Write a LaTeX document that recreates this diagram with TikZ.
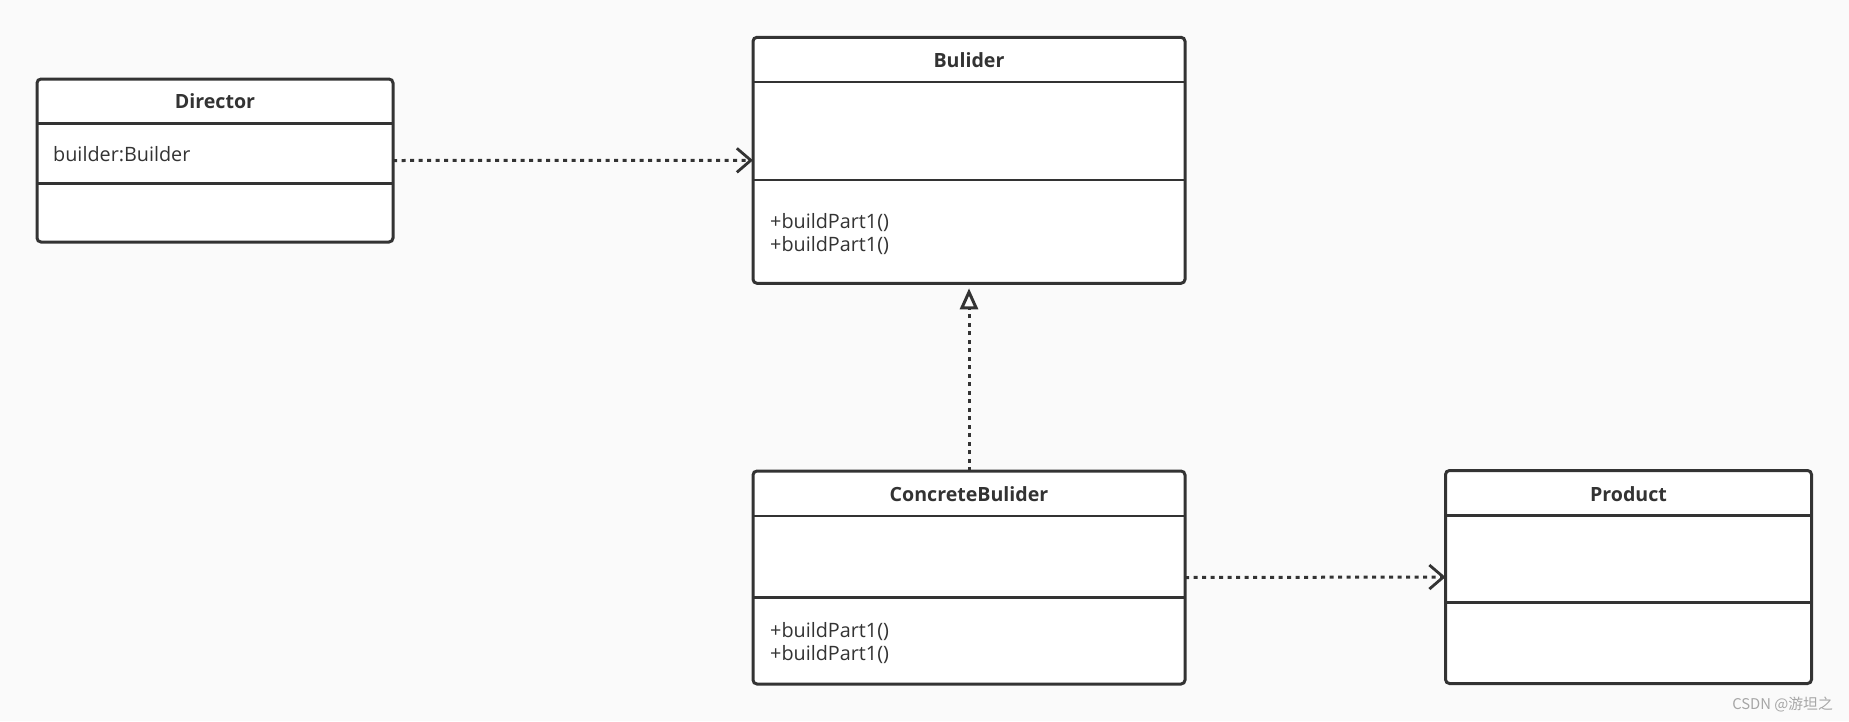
\documentclass[tikz,border=0pt]{standalone}
\usepackage{fontspec}
\setmainfont{Open Sans}
\newfontfamily\cjkfont{Noto Sans CJK SC}
\usetikzlibrary{arrows.meta}
\definecolor{bg}{HTML}{FAFAFA}
\definecolor{ink}{HTML}{333333}
\definecolor{wmc}{HTML}{A6A6A6}
\begin{document}
\begin{tikzpicture}[x=1pt,y=-1pt,
  cls/.style={draw=ink, fill=white, line width=3pt, rounded corners=4pt, inner sep=0pt, outer sep=0pt},
  sep/.style={draw=ink, line width=2.8pt},
  ttl/.style={font=\fontsize{19.6}{23}\selectfont\bfseries, text=ink, inner sep=0pt},
  txt/.style={font=\fontsize{19.8}{23.4}\selectfont, text=ink, align=left, inner sep=0pt, anchor=base west},
  dep/.style={draw=ink, line width=3pt, dash pattern=on 4pt off 4.5pt, -{Straight Barb[length=14pt,width=24pt,line width=2.8pt]}},
  real/.style={draw=ink, line width=3pt, dash pattern=on 4pt off 4.5pt, -{Triangle[open,length=21pt,width=18pt,line width=3pt]}}
]
\path[fill=bg] (0,0) rectangle (1849,721);
\useasboundingbox (0,0) rectangle (1849,721);

% Director
\node[cls, minimum width=356pt, minimum height=163pt] (dir) at (215,160.5) {};
\draw[sep] (dir.west |- 0,123.3) -- (dir.east |- 0,123.3);
\draw[sep] (dir.west |- 0,183.3) -- (dir.east |- 0,183.3);
\node[ttl] (dirT) at (215,101.5) {Director};
\node[txt] (dirA) at (53,161.7) {builder:Builder};

% Builder
\node[cls, minimum width=432pt, minimum height=246pt] (bld) at (969,160.3) {};
\draw[sep] (bld.west |- 0,82) -- (bld.east |- 0,82);
\draw[sep] (bld.west |- 0,180) -- (bld.east |- 0,180);
\node[ttl] (bldT) at (969,60) {Bulider};
\node[txt] (bldM) at (770,251.7) {+buildPart1()\\+buildPart1()};

% ConcreteBuilder
\node[cls, minimum width=432pt, minimum height=213pt] (cb) at (969,577.5) {};
\draw[sep] (cb.west |- 0,516) -- (cb.east |- 0,516);
\draw[sep] (cb.west |- 0,597.3) -- (cb.east |- 0,597.3);
\node[ttl] (cbT) at (969,494.5) {ConcreteBulider};
\node[txt] (cbM) at (770,660.7) {+buildPart1()\\+buildPart1()};

% Product
\node[cls, minimum width=366pt, minimum height=213pt] (prd) at (1628.5,577) {};
\draw[sep] (prd.west |- 0,515.5) -- (prd.east |- 0,515.5);
\draw[sep] (prd.west |- 0,602.7) -- (prd.east |- 0,602.7);
\node[ttl] (prdT) at (1628.5,494) {Product};

% connectors
\draw[dep] (dir.east) -- (bld.west);
\draw[dep] (cb.east) -- (prd.west);
\draw[real, shorten >=5pt] (cb.north) -- (bld.south);

% watermark
\node[font=\cjkfont\fontsize{14.8}{17}\selectfont, text=wmc, anchor=east, inner sep=0pt] (wm) at (1833,705) {CSDN @游坦之};
\end{tikzpicture}
\end{document}
